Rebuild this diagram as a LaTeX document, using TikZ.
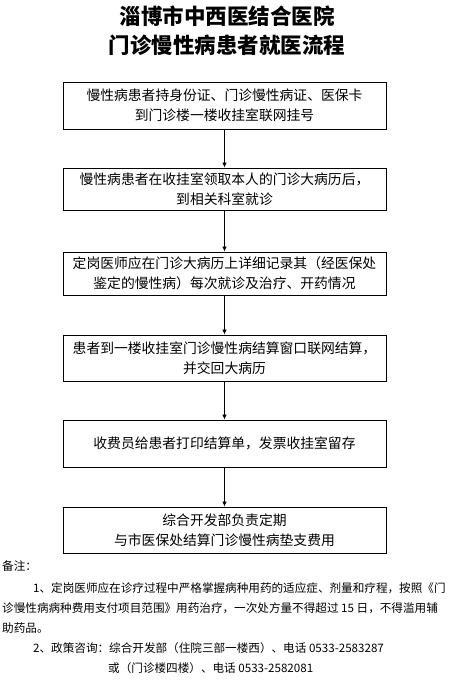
\documentclass[tikz,border=0pt]{standalone}
\usepackage{fontspec}
\usepackage{tikz}
\usetikzlibrary{arrows.meta}
\newfontfamily\cjk{Noto Sans CJK SC}
\definecolor{flowline}{HTML}{000000}

\tikzset{
  stepbox/.style={draw=flowline, line width=0.9pt, minimum width=323pt, inner sep=0pt,
    align=center, font=\cjk\fontsize{13.8}{20}\selectfont},
  flowarrow/.style={draw=flowline, line width=0.8pt, -{Latex[length=5pt,width=4.5pt]}},
  notetext/.style={anchor=west, inner sep=0pt, font=\cjk\fontsize{11.6}{20}\selectfont}
}

\begin{document}
\begin{tikzpicture}[x=1pt,y=-1pt]
\useasboundingbox (0,0) rectangle (465,683);
% title
\node[font=\cjk\bfseries\fontsize{21.5}{30}\selectfont] (title1) at (227,16) {淄博市中西医结合医院};
\node[font=\cjk\bfseries\fontsize{21.5}{30}\selectfont] (title2) at (227,45) {门诊慢性病患者就医流程};

% flow boxes
\node[stepbox, minimum height=47pt] (reg) at (224.5,105.5)
  {慢性病患者持身份证、门诊慢性病证、医保卡\\到门诊楼一楼收挂室联网挂号};
\node[stepbox, minimum height=42pt] (visit) at (224.5,189)
  {慢性病患者在收挂室领取本人的门诊大病历后，\\到相关科室就诊};
\node[stepbox, minimum height=43pt] (record) at (224.5,273.5)
  {定岗医师应在门诊大病历上详细记录其（经医保处\\鉴定的慢性病）每次就诊及治疗、开药情况};
\node[stepbox, minimum height=46pt] (settle) at (224.5,358)
  {患者到一楼收挂室门诊慢性病结算窗口联网结算，\\并交回大病历};
\node[stepbox, minimum height=47pt] (receipt) at (224.5,443.5)
  {收费员给患者打印结算单，发票收挂室留存};
\node[stepbox, minimum height=46pt] (refund) at (224.5,530)
  {综合开发部负责定期\\与市医保处结算门诊慢性病垫支费用};

\draw[flowarrow] (reg) -- (visit);
\draw[flowarrow] (visit) -- (record);
\draw[flowarrow] (record) -- (settle);
\draw[flowarrow] (settle) -- (receipt);
\draw[flowarrow] (receipt) -- (refund);

% notes
\node[notetext] (note0) at (2,566) {备注：};
\node[notetext] (note1) at (33,588) {1、定岗医师应在诊疗过程中严格掌握病种用药的适应症、剂量和疗程，按照《门};
\node[notetext] (note2) at (2,608) {诊慢性病病种费用支付项目范围》用药治疗，一次处方量不得超过 15 日，不得滥用辅};
\node[notetext] (note3) at (2,628) {助药品。};
\node[notetext] (note4) at (33,648) {2、政策咨询：综合开发部（住院三部一楼西）、电话 0533-2583287};
\node[notetext] (note5) at (108,668) {或（门诊楼四楼）、电话 0533-2582081};
\end{tikzpicture}
\end{document}
